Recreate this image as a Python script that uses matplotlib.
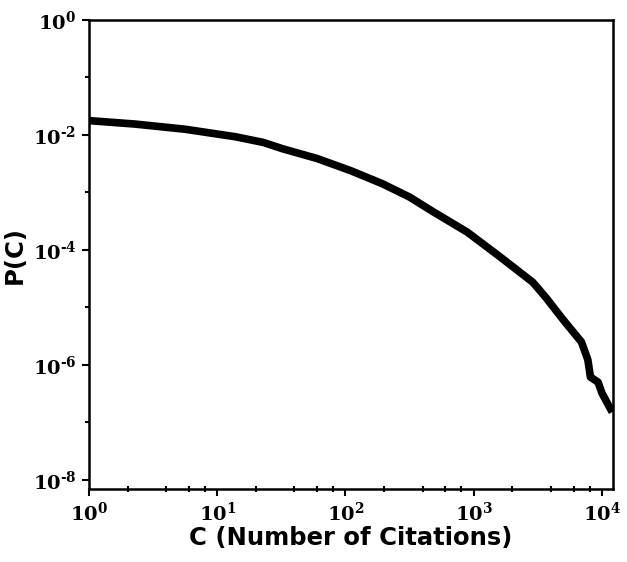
import numpy as np
import matplotlib
matplotlib.use("Agg")
import matplotlib.pyplot as plt
from matplotlib.ticker import LogLocator, FuncFormatter, NullFormatter

# citation distribution, read as log10 values
log_c = [0.0, 0.36, 0.75, 1.14, 1.36, 1.51, 1.78, 2.04, 2.29, 2.50, 2.68, 2.95, 3.20, 3.46,
         3.56, 3.70, 3.84, 3.89, 3.91, 3.97, 4.00, 4.08]
log_p = [-1.75, -1.81, -1.90, -2.03, -2.13, -2.24, -2.41, -2.62, -2.85, -3.08, -3.33, -3.69, -4.11, -4.56,
         -4.82, -5.22, -5.60, -5.91, -6.21, -6.30, -6.49, -6.82]

c = 10 ** np.array(log_c)
p = 10 ** np.array(log_p)

plt.rcParams['mathtext.fontset'] = 'dejavuserif'

fig = plt.figure(figsize=(6.27, 5.62), dpi=100)
ax = fig.add_axes([89 / 627, 1 - 489 / 562, (613 - 89) / 627, (489 - 20) / 562])

ax.plot(c, p, color='black', lw=5.5, solid_capstyle='butt', solid_joinstyle='round')

ax.set_xscale('log')
ax.set_yscale('log')
ax.set_xlim(1, 10 ** 4.086)
ax.set_ylim(10 ** -8.157, 1)


def pow_label(v, pos):
    e = int(round(np.log10(v)))
    s = str(e).replace('-', '\u2010')
    return r'$\mathbf{10^{%s}}$' % s


fmt = FuncFormatter(pow_label)
ax.xaxis.set_major_locator(LogLocator(base=10, numticks=10))
ax.xaxis.set_major_formatter(fmt)
ax.xaxis.set_minor_locator(LogLocator(base=10, subs=[2, 4, 6, 8], numticks=20))
ax.xaxis.set_minor_formatter(NullFormatter())

ax.yaxis.set_major_locator(LogLocator(base=100, numticks=10))
ax.yaxis.set_major_formatter(fmt)
ax.yaxis.set_minor_locator(LogLocator(base=10, subs=[1.0], numticks=20))
ax.yaxis.set_minor_formatter(NullFormatter())

ax.tick_params(which='major', direction='out', length=5, width=1.5, labelsize=14, pad=4)
ax.tick_params(axis='x', which='minor', direction='inout', length=4, width=1.5)
ax.tick_params(axis='y', which='minor', direction='out', length=3, width=1.5)
for s in ax.spines.values():
    s.set_linewidth(1.8)

ax.set_xlabel('C (Number of Citations)', fontsize=17.5, fontweight='bold', family='DejaVu Sans', labelpad=1)
ax.set_ylabel('P(C)', fontsize=17.5, fontweight='bold', family='DejaVu Sans', labelpad=4)

fig.savefig('out.png', dpi=100)
